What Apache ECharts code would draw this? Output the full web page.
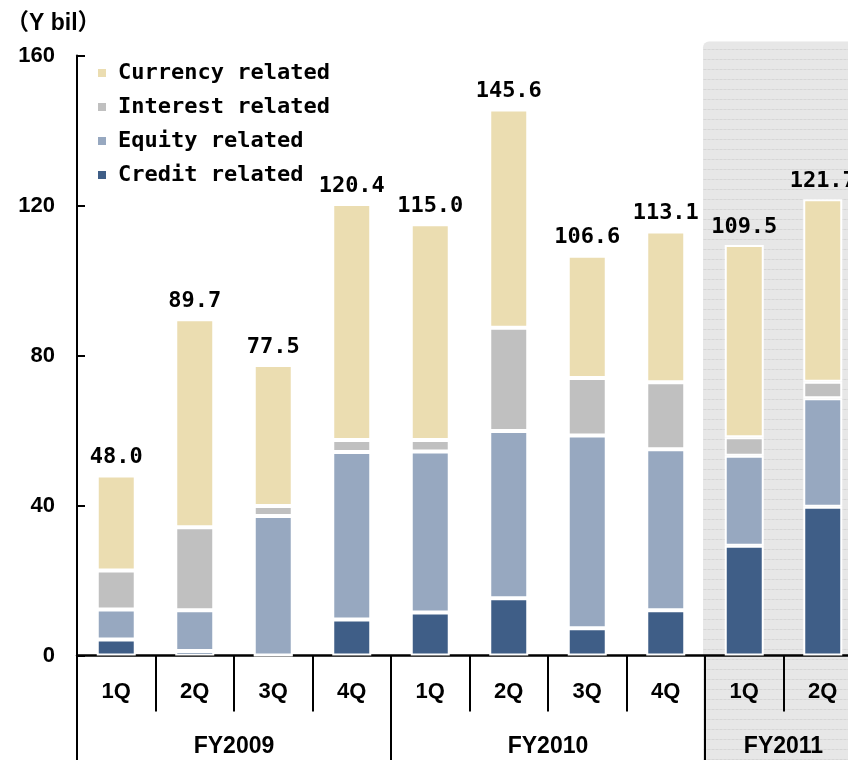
<!DOCTYPE html>
<html>
<head>
<meta charset="utf-8">
<title>Trading revenue by product</title>
<script src="https://cdn.jsdelivr.net/npm/echarts@6/dist/echarts.min.js"></script>
<style>
  html, body { margin: 0; padding: 0; background: #fff; }
  #chart { width: 848px; height: 760px; }
</style>
</head>
<body>
<div id="chart"></div>
<script>
// quarters on the x axis, grouped by fiscal year
var quarters = ['1Q', '2Q', '3Q', '4Q', '1Q', '2Q', '3Q', '4Q', '1Q', '2Q'];
var fiscalYears = ['FY2009', 'FY2010', 'FY2011'];
var quartersPerYear = [4, 4, 2];
var shadedYear = 'FY2011';

// Y bil
var creditRelated = [4.3, 1.2, 0, 9.6, 11.5, 15.3, 7.3, 12.1, 29.3, 39.7];
var equityRelated = [8.0, 10.9, 37.2, 44.7, 42.9, 44.6, 51.4, 42.9, 24.0, 28.9];
var interestRelated = [10.4, 22.1, 2.7, 3.2, 3.1, 27.5, 15.3, 17.9, 4.9, 4.4];
var currencyRelated = [25.3, 55.5, 37.6, 62.9, 57.5, 58.2, 32.6, 40.2, 51.3, 48.7];
var totals = [48.0, 89.7, 77.5, 120.4, 115.0, 145.6, 106.6, 113.1, 109.5, 121.7];

var yTicks = [0, 40, 80, 120, 160];

var monoFont = '"DejaVu Sans Mono", monospace';
var sansFont = '"Liberation Sans", Arial, sans-serif';

// where each fiscal year starts / sits on the 0..n value axis
var yearStarts = [];
var yearCenters = [];
var acc = 0;
for (var i = 0; i < fiscalYears.length; i++) {
    yearStarts.push(acc);
    yearCenters.push(acc + quartersPerYear[i] / 2);
    acc += quartersPerYear[i];
}

var chart = echarts.init(document.getElementById('chart'), null, { renderer: 'canvas' });

function barSeries(name, data, color) {
    return {
        name: name,
        type: 'bar',
        stack: 'total',
        data: data,
        barWidth: 39,
        itemStyle: { color: color, borderColor: '#ffffff', borderWidth: 2 },
        emphasis: { disabled: true }
    };
}

var currencySeries = barSeries('Currency related', currencyRelated, '#EBDDB1');
currencySeries.label = {
    show: true,
    position: 'top',
    distance: 7,
    color: '#000',
    fontFamily: monoFont,
    fontWeight: 'bold',
    fontSize: 22,
    formatter: function(p) {
        return totals[p.dataIndex].toFixed(1);
    }
};

var option = {
    animation: false,
    backgroundColor: '#ffffff',
    title: {
        text: '（Y bil）',
        left: 6,
        top: 12,
        padding: 0,
        textStyle: {
            fontFamily: '"Liberation Sans", "Noto Sans CJK JP", sans-serif',
            fontWeight: 'bold',
            fontSize: 23,
            color: '#000'
        }
    },
    legend: {
        orient: 'vertical',
        left: 96,
        top: 61,
        padding: 0,
        itemWidth: 10,
        itemHeight: 10,
        itemGap: 10,
        icon: 'rect',
        selectedMode: false,
        data: ['Currency related', 'Interest related', 'Equity related', 'Credit related'],
        textStyle: {
            fontFamily: monoFont,
            fontWeight: 'bold',
            fontSize: 22,
            lineHeight: 24,
            color: '#000',
            padding: [0, 0, 0, 6]
        }
    },
    grid: {
        left: 77,
        top: 55.5,
        width: 785,
        height: 600,
        containLabel: false,
        outerBoundsMode: 'none'
    },
    xAxis: [{
        type: 'category',
        data: quarters,
        axisLine: { lineStyle: { color: '#000', width: 2.5 } },
        axisTick: { show: true, length: 56, lineStyle: { color: '#000', width: 2 } },
        axisLabel: {
            margin: 25,
            color: '#000',
            fontFamily: sansFont,
            fontWeight: 'bold',
            fontSize: 22,
            interval: 0
        },
        splitLine: { show: false }
    }, {
        // second row: fiscal year groups
        type: 'value',
        min: 0,
        max: quarters.length,
        position: 'bottom',
        axisLine: { show: false },
        axisTick: {
            show: true,
            length: 105,
            customValues: yearStarts,
            lineStyle: { color: '#000', width: 2 }
        },
        axisLabel: {
            show: true,
            margin: 80,
            customValues: yearCenters,
            color: '#000',
            fontFamily: sansFont,
            fontWeight: 'bold',
            fontSize: 23,
            formatter: function(v) {
                var idx = yearCenters.indexOf(v);
                return idx >= 0 ? fiscalYears[idx] : '';
            }
        },
        splitLine: { show: false }
    }],
    yAxis: {
        type: 'value',
        min: yTicks[0],
        max: yTicks[yTicks.length - 1],
        interval: yTicks[1] - yTicks[0],
        axisLine: { show: true, lineStyle: { color: '#000', width: 2 } },
        axisTick: { show: true, inside: true, length: 8, lineStyle: { color: '#000', width: 2 } },
        axisLabel: {
            margin: 22,
            color: '#000',
            fontFamily: sansFont,
            fontWeight: 'bold',
            fontSize: 22
        },
        splitLine: { show: false }
    },
    series: [
        barSeries('Credit related', creditRelated, '#3F5E87'),
        barSeries('Equity related', equityRelated, '#97A8C0'),
        barSeries('Interest related', interestRelated, '#C0C0C0'),
        currencySeries
    ]
};

chart.setOption(option);

// striped grey backdrop behind the shaded fiscal year
function stripePattern() {
    var c = document.createElement('canvas');
    c.width = 4;
    c.height = 10;
    var ctx = c.getContext('2d');
    ctx.fillStyle = '#E7E7E7';
    ctx.fillRect(0, 0, 4, 10);
    ctx.fillStyle = '#D6D6D6';
    ctx.fillRect(0, 9, 2, 1);
    ctx.fillStyle = '#DDDDDD';
    ctx.fillRect(2, 9, 2, 1);
    return c;
}

var shadeIdx = fiscalYears.indexOf(shadedYear);
var shadeX = chart.convertToPixel({ xAxisIndex: 1 }, yearStarts[shadeIdx]) - 2;
var shadeTop = chart.convertToPixel({ yAxisIndex: 0 }, yTicks[yTicks.length - 1]) - 14;

chart.setOption({
    graphic: [{
        type: 'rect',
        z: -10,
        silent: true,
        shape: { x: shadeX, y: shadeTop, width: 848 - shadeX + 20, height: 760 - shadeTop + 10, r: [6, 0, 0, 0] },
        style: { fill: { image: stripePattern(), repeat: 'repeat' } }
    }]
});
</script>
</body>
</html>
